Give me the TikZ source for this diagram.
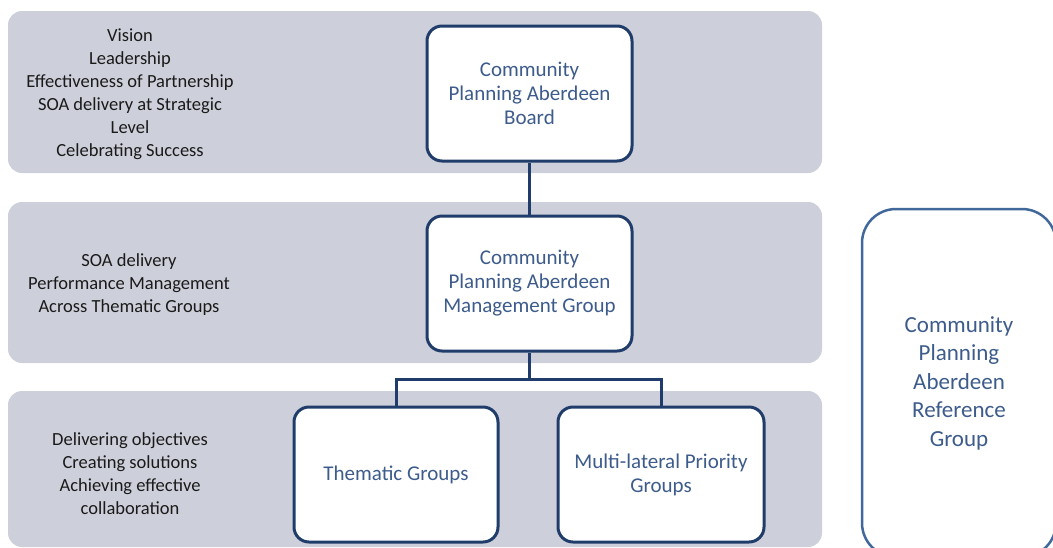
\documentclass[tikz,border=0pt]{standalone}
\usepackage{fontspec}
\setmainfont{Carlito}
\usetikzlibrary{positioning,calc}

\definecolor{bandgrey}{HTML}{CDD0DA}
\definecolor{boxnavy}{HTML}{1F3C6B}
\definecolor{boxtext}{HTML}{3D5C8C}
\definecolor{refblue}{HTML}{41689A}
\definecolor{sidetext}{HTML}{1A1A1A}

\begin{document}
\begin{tikzpicture}[
    x=1pt, y=-1pt,
    band/.style ={rectangle, fill=bandgrey, rounded corners=14pt,
                  minimum width=814pt, inner sep=0pt},
    box/.style  ={rectangle, draw=boxnavy, line width=3pt, fill=white,
                  rounded corners=15pt, align=center,
                  minimum width=205pt, minimum height=135pt,
                  text=boxtext, font=\fontsize{21}{24}\selectfont},
    refbox/.style={rectangle, draw=refblue, line width=2.5pt, fill=white,
                  rounded corners=34pt, align=center,
                  minimum width=194pt, minimum height=348pt,
                  text=boxtext, font=\fontsize{23}{28.5}\selectfont},
    side/.style ={align=center, text=sidetext,
                  font=\fontsize{18.5}{23}\selectfont},
    link/.style ={draw=boxnavy, line width=3pt}
]
\clip (0,0) rectangle (1053,547);

%–––– BANDS –––––––––––––––––––––––––––––––––––––––––
\node (band1) [band, minimum height=162pt] at (415,92)  {};
\node (band2) [band, minimum height=161pt] at (415,282.5) {};
\node (band3) [band, minimum height=156pt] at (415,469) {};

%–––– SIDE TEXT ––––––––––––––––––––––––––––––––––––
\node (role1) [side] at (130,94) {Vision\\Leadership\\Effectiveness of Partnership\\
  SOA delivery at Strategic\\Level\\Celebrating Success};
\node (role2) [side] at (129,285) {SOA delivery\\Performance Management\\Across Thematic Groups};
\node (role3) [side] at (130,474) {Delivering objectives\\Creating solutions\\
  Achieving effective\\collaboration};

%–––– GROUPS –––––––––––––––––––––––––––––––––––––––
\node (board)    [box] at (529.5,93.5) {Community\\Planning Aberdeen\\Board};
\node (mgmt)     [box, below=52pt of board] {Community\\Planning Aberdeen\\Management Group};
\node (thematic) [box, minimum width=204pt] at (396,474.5) {Thematic Groups};
\node (multi)    [box, minimum width=206pt, right=57pt of thematic] {Multi-lateral Priority\\Groups};

\node (reference) [refbox] at (959,383) {Community\\Planning\\Aberdeen\\Reference\\Group};

%–––– LINKS ––––––––––––––––––––––––––––––––––––––––
\coordinate (split) at ($(mgmt.south)+(0,27)$);
\draw[link] (board) -- (mgmt);
\draw[link] (mgmt.south) -- (split);
\draw[link] (split) -| (thematic.north);
\draw[link] (split) -| (multi.north);
\end{tikzpicture}
\end{document}
